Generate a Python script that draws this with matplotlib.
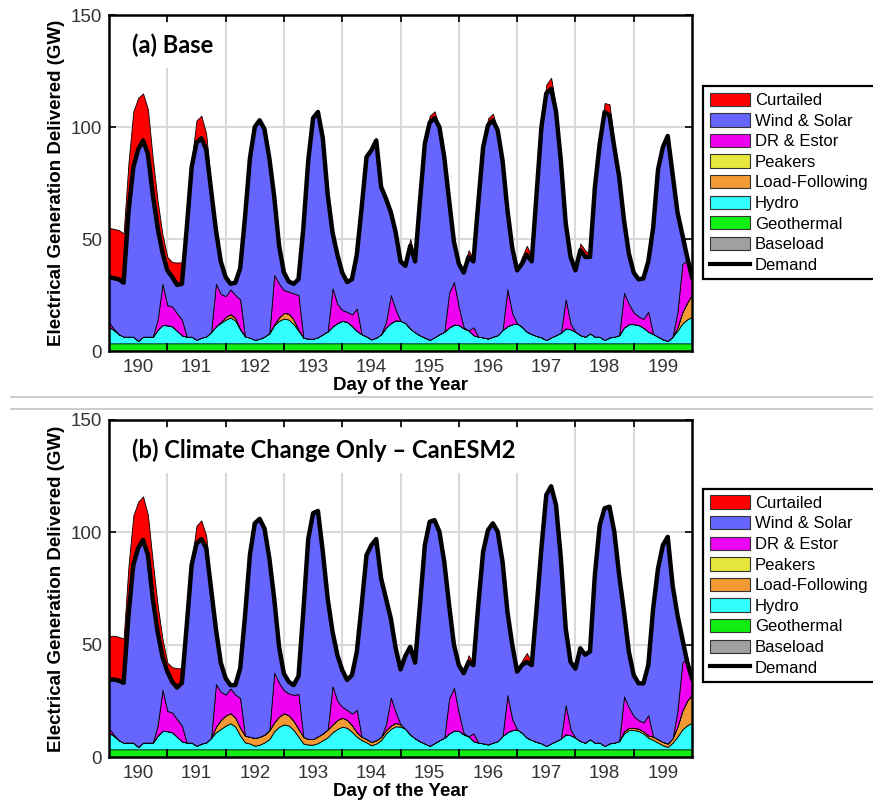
import numpy as np
import matplotlib
matplotlib.use("Agg")
import matplotlib.pyplot as plt
from matplotlib.patches import Patch
from matplotlib.lines import Line2D

plt.rcParams['font.family'] = ['Liberation Sans', 'DejaVu Sans']

# samples every 2 hours from day 189.5 to 199.5 (12 per day + end point)
hours = np.linspace(189.5, 199.5, 121)
days = [190, 191, 192, 193, 194, 195, 196, 197, 198, 199]
day_edges = [190.5, 191.5, 192.5, 193.5, 194.5, 195.5, 196.5, 197.5, 198.5]

baseload = 0.0
geothermal = 3.4

# hydro (GW above geothermal), same in both runs
hydro = [
    7.4, 6.0, 4.1, 3.0, 3.0, 3.0, 1.1, 3.0, 3.0, 3.0, 6.1, 8.2,
    8.1, 7.6, 5.6, 3.6, 3.0, 3.0, 1.6, 2.6, 3.1, 5.1, 7.6, 9.1,
    10.6, 11.6, 10.1, 6.1, 3.1, 2.6, 1.6, 2.1, 3.1, 4.6, 8.1, 10.1,
    11.1, 10.6, 8.6, 5.6, 2.6, 2.1, 2.1, 2.8, 4.1, 5.4, 7.6, 9.1,
    10.1, 9.6, 7.8, 5.6, 4.1, 3.1, 1.8, 2.6, 4.1, 7.1, 9.1, 10.3,
    10.1, 9.1, 6.6, 4.9, 3.6, 2.6, 1.6, 2.8, 4.1, 5.2, 7.1, 8.4,
    8.2, 6.7, 5.8, 3.7, 3.0, 2.7, 2.2, 3.0, 3.7, 6.0, 7.7, 8.6,
    8.9, 7.4, 5.2, 4.2, 3.3, 2.7, 1.5, 2.7, 3.7, 4.8, 6.7, 6.3,
    5.2, 3.7, 3.0, 4.5, 3.0, 3.0, 1.5, 2.7, 3.0, 3.7, 7.1, 8.6,
    8.6, 8.2, 7.0, 5.2, 4.2, 3.0, 1.8, 1.1, 3.0, 5.7, 8.9, 10.7,
    11.9]

# DR & Estor, same in both runs
dr_estor = [
    2, 0.5, 0, 0, 0, 0, 0, 0, 0, 0, 4.5, 18.4,
    9, 8.8, 7.8, 7, 0, 0, 0, 0, 0, 0, 19, 12.5,
    9.3, 11, 10.3, 13.2, 0, 0, 0, 0, 0, 0, 22, 15,
    10.2, 9.8, 11.7, 15.5, 0, 0, 0, 0, 0, 0, 17, 8.5,
    4.8, 4.5, 5.1, 10, 0, 0, 0, 0, 0, 2.5, 12.5, 4.8,
    0, 0, 0, 0, 0, 0, 0, 0, 0, 0, 15.5, 19,
    8, 0.5, 0, 3.5, 0, 0, 0, 0, 0, 0, 16.5, 4.8,
    0, 0, 0, 0, 0, 0, 0, 0, 0, 0, 13, 2.5,
    0, 0, 0, 0, 0, 0, 0, 0, 0, 0, 15.5, 9,
    5.2, 3.8, 4, 9, 0, 0, 0, 0, 0, 7, 21.5, 19,
    7]

peakers = [0] * 121

# (a) Base
demand_a = [
    33, 32.5, 32, 30.5, 62, 82, 90, 94, 88, 70, 55, 44,
    36, 33, 29.5, 30, 55, 82, 93, 95, 90, 72, 54, 40,
    33, 30, 30.5, 37, 60, 86, 100, 103, 99, 86, 69, 47,
    35, 31, 30, 32, 55, 85, 104, 106.7, 95, 70, 53, 43,
    35, 30.8, 32, 43, 64, 86.6, 89.6, 94, 73.3, 68, 62, 53,
    40, 38, 47, 40, 67, 92.6, 102, 104, 100, 86.6, 67.3, 48.7,
    39, 35, 42, 40, 66, 91, 100.8, 103, 98.5, 85, 63, 46,
    36, 39, 43, 40, 70, 100, 115, 117, 107, 85, 57, 42,
    36, 45, 42, 42, 73, 92.6, 106.7, 105.2, 91, 77.7, 58.4, 43.5,
    35, 32, 32.4, 40, 55, 81, 91, 96, 79, 62, 52, 42,
    33]
curtailed_a = [
    22, 22, 22, 22, 22, 25, 23, 21, 20, 16, 12, 8,
    6, 6.7, 10, 9.6, 0, 3, 10, 10, 7, 2, 0, 0,
    0, 0, 0, 0, 0, 0, 0, 0, 0, 0, 0, 0,
    0, 0, 0, 0, 0, 0, 0, 0, 0, 0, 0, 0,
    0, 0, 0, 0, 0, 0, 1, 1, 0, 0, 0, 0,
    0, 1, 3, 1, 0, 0, 3, 3, 0, 0, 0, 0,
    0, 1, 3, 1, 0, 0, 3, 3, 0, 0, 0, 0,
    0, 3, 4, 2, 0, 0, 4, 5, 2, 0, 0, 0,
    0, 3, 3, 1, 0, 0, 4, 5, 2, 1, 0, 0,
    0, 0, 0, 0, 0, 0, 0, 0, 0, 0, 0, 0,
    0]
load_following_a = [
    0, 0, 0, 0, 0, 0, 0, 0, 0, 0, 0, 0,
    0, 0, 0, 0, 0, 0, 0, 0, 0, 0, 0, 0.5,
    1.2, 1.5, 1.2, 0.3, 0, 0, 0, 0, 0, 0, 0.5, 1.5,
    2.5, 2.7, 2.0, 0.5, 0, 0, 0, 0, 0, 0, 0, 0,
    0, 0, 0, 0, 0, 0, 0, 0, 0, 0, 0, 0,
    0, 0, 0, 0, 0, 0, 0, 0, 0, 0, 0, 0,
    0, 0, 0, 0, 0, 0, 0, 0, 0, 0, 0, 0,
    0, 0, 0, 0, 0, 0, 0, 0, 0, 0, 0, 0,
    0, 0, 0, 0, 0, 0, 0, 0, 0, 0, 0, 0,
    0, 0, 0, 0, 0, 0, 0, 0, 0, 1.5, 5, 7.5,
    10]

# (b) Climate Change Only - CanESM2
demand_b = [
    34.3, 34.5, 34, 33, 63, 85.5, 93, 96.6, 90, 70.5, 55.7, 44.6,
    38, 33.5, 30.9, 33, 58.7, 85.5, 95, 97, 93, 75, 57, 42,
    35, 32, 32, 39.5, 63, 90, 104, 106, 101.7, 88.4, 70.5, 49,
    37, 33.5, 32, 36, 65, 97, 108.5, 109.5, 91.4, 70.6, 55.8, 45.4,
    38.7, 34.3, 36.4, 46.8, 67.6, 89.9, 94.3, 97, 79.5, 70.6, 61.7, 48.4,
    39, 45, 49, 42, 67.6, 94.3, 104.7, 105.4, 100.3, 86.9, 67.6, 49.9,
    40.9, 37.3, 42.3, 40.9, 67.6, 91.4, 101, 104, 100.3, 86.9, 64.7, 49.9,
    38, 40.9, 42.3, 40.9, 66, 93, 116.6, 120.5, 112.2, 88.4, 57.2, 42.3,
    39.3, 48.4, 45.5, 47, 81, 103.2, 110.7, 111.4, 100.3, 81, 64.7, 46.8,
    36.4, 32.8, 32.8, 40.9, 66.1, 83.9, 94.3, 98, 76.5, 63.2, 52.8, 42.3,
    35]
curtailed_b = [
    19.5, 19.5, 19.5, 19.7, 22, 22, 20.6, 19.4, 17.7, 16.5, 12, 8,
    4, 6.5, 8.6, 6.5, 0, 1.5, 8, 8.3, 5.5, 1.5, 0, 0,
    0, 0, 0, 0, 0, 0, 0, 0, 0, 0, 0, 0,
    0, 0, 0, 0, 0, 0, 0, 0, 0, 0, 0, 0,
    0, 0, 0, 0, 0, 0, 0, 0, 0, 0, 0, 0,
    0, 0, 0, 0, 0, 0, 0, 0, 0, 0, 0, 0,
    0, 0.5, 3, 0.5, 0, 0, 0, 0.5, 0, 0, 0, 0,
    0, 2, 4, 1, 0, 0, 0, 0, 0, 0, 0, 0,
    0, 0, 0, 0, 0, 0, 0, 0, 0, 0, 0, 0,
    0, 0, 0, 0, 0, 0, 0, 0, 0, 0, 0, 0,
    0]
load_following_b = [
    0, 0, 0, 0, 0, 0, 0, 0, 0, 0, 0, 0,
    0, 0, 0, 0, 0, 0, 0, 0, 0, 0, 2.5, 4,
    4.5, 4.5, 4, 3.5, 3, 3, 3.5, 3.5, 3.5, 4, 4, 4.5,
    5, 4.5, 4, 3.5, 3, 2.5, 2.5, 3, 3, 3.5, 3.5, 4,
    4, 3.5, 3, 2, 1.5, 1.5, 1.5, 1.5, 1.5, 1.5, 1.5, 1.5,
    1, 0, 0, 0, 0, 0, 0, 0, 0, 0, 0, 0,
    0, 0, 0, 0, 0, 0, 0, 0, 0, 0, 0, 0,
    0, 0, 0, 0, 0, 0, 0, 0, 0, 0, 0, 0,
    0, 0, 0, 0, 0, 0, 0, 0, 0, 0, 1, 1,
    1, 1, 1, 1, 1.5, 1.5, 1.5, 1.5, 2, 4.5, 8.3, 11,
    12.5]

colors = {
    'Curtailed': '#FF0000',
    'Wind & Solar': '#6666FF',
    'DR & Estor': '#F000F0',
    'Peakers': '#E6E63C',
    'Load-Following': '#F39A35',
    'Hydro': '#33FFFF',
    'Geothermal': '#11EE11',
    'Baseload': '#A0A0A0',
}


def draw_panel(ax, demand, curtailed, load_following, title):
    demand = np.array(demand, dtype=float)
    n = len(hours)
    stack = [
        ('Baseload', np.full(n, baseload)),
        ('Geothermal', np.full(n, geothermal)),
        ('Hydro', np.array(hydro, dtype=float)),
        ('Load-Following', np.array(load_following, dtype=float)),
        ('Peakers', np.array(peakers, dtype=float)),
        ('DR & Estor', np.array(dr_estor, dtype=float)),
    ]
    bottom = np.zeros(n)
    for name, vals in stack:
        top = bottom + vals
        ax.fill_between(hours, bottom, top, facecolor=colors[name],
                        edgecolor='black', linewidth=0.6, zorder=1)
        bottom = top
    # wind & solar fill up to demand
    ws_top = np.maximum(demand, bottom)
    ax.fill_between(hours, bottom, ws_top, facecolor=colors['Wind & Solar'],
                    edgecolor='black', linewidth=0.6, zorder=1)
    ax.fill_between(hours, demand, demand + np.array(curtailed), facecolor=colors['Curtailed'],
                    edgecolor='black', linewidth=0.6, zorder=1)
    ax.plot(hours, demand, color='black', linewidth=3.2, zorder=3, solid_joinstyle='round')
    # day separators on the geothermal strip
    ax.vlines(day_edges, 0, geothermal, color='black', linewidth=1.3, zorder=3)

    ax.set_xlim(189.5, 199.5)
    ax.set_ylim(0, 150)
    ax.set_axisbelow(True)
    ax.set_xticks(day_edges)
    ax.set_xticks(days, minor=True)
    ax.set_xticklabels([str(d) for d in days], minor=True)
    ax.tick_params(axis='x', which='major', labelbottom=False, direction='in',
                   length=5, width=1.2, top=True, bottom=True)
    ax.tick_params(axis='x', which='minor', length=0, labelsize=13.5, pad=6,
                   labelcolor='#333333')
    ax.set_yticks([0, 50, 100, 150])
    ax.tick_params(axis='y', direction='in', length=5, width=1.2, left=True, right=True,
                   labelsize=13.5, pad=5, labelcolor='#333333')
    ax.grid(True, which='major', color='#d9d9d9', linewidth=1.5)
    for s in ax.spines.values():
        s.set_linewidth(1.8)
        s.set_color('black')

    ax.set_xlabel('Day of the Year', fontsize=13.5, fontweight='bold')
    ax.xaxis.set_label_coords(0.5, -0.076)
    ax.set_ylabel('Electrical Generation Delivered (GW)', fontsize=13.5, fontweight='bold')
    ax.yaxis.set_label_coords(-0.076, 0.5)

    ax.text(0.04, 0.91, title, transform=ax.transAxes, fontsize=17, fontweight='bold',
            family=['Lato', 'DejaVu Sans'], ha='left', va='center', zorder=4,
            bbox=dict(boxstyle='square,pad=0.45', facecolor='white', edgecolor='none'))


fig = plt.figure(figsize=(8.73, 8.0), dpi=100)
ax_a = fig.add_axes([0.1249, 0.56125, 0.6678, 0.42])
ax_b = fig.add_axes([0.1249, 0.05375, 0.6678, 0.42125])

draw_panel(ax_a, demand_a, curtailed_a, load_following_a, '(a) Base')
draw_panel(ax_b, demand_b, curtailed_b, load_following_b, '(b) Climate Change Only \u2013 CanESM2')

legend_names = ['Curtailed', 'Wind & Solar', 'DR & Estor', 'Peakers',
                'Load-Following', 'Hydro', 'Geothermal', 'Baseload']
handles = [Patch(facecolor=colors[k], edgecolor='#333333', linewidth=0.8) for k in legend_names]
handles.append(Line2D([], [], color='black', linewidth=3))
labels = legend_names + ['Demand']

for top in (0.8925, 0.389):
    leg = fig.legend(handles, labels, loc='upper left', bbox_to_anchor=(0.8053, top),
                     borderaxespad=0, fontsize=12, handlelength=2.4, handleheight=0.85,
                     handletextpad=0.3, labelspacing=0.31, borderpad=0.4,
                     fancybox=False, framealpha=1, edgecolor='black')
    leg.get_frame().set_linewidth(1.6)

# separator between the two panels
for yy in (1 - 397 / 800, 1 - 409 / 800):
    fig.add_artist(Line2D([11 / 873, 1.0], [yy, yy], transform=fig.transFigure,
                          color='#c4c4c4', linewidth=1.2))

fig.savefig('out.png', dpi=100)
